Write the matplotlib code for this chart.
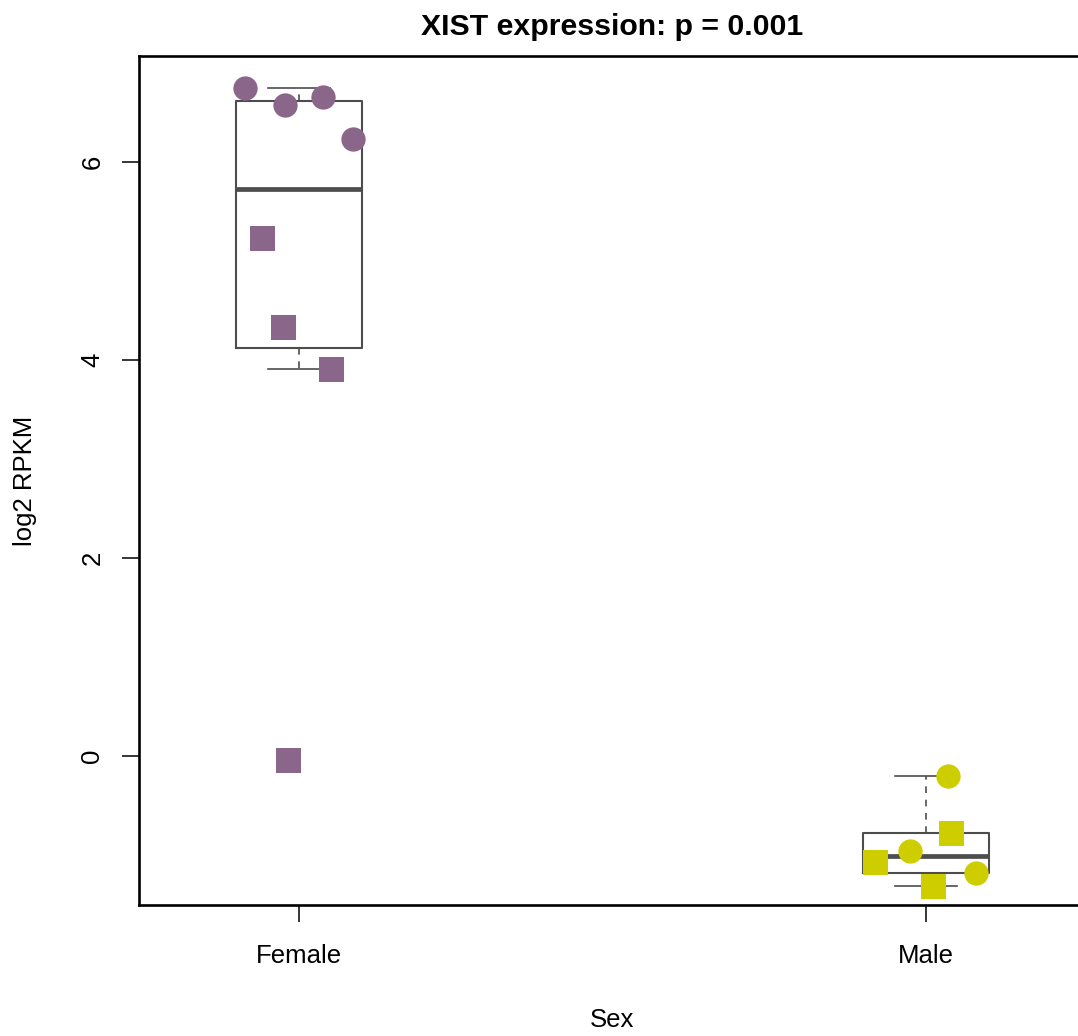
import numpy as np
import matplotlib.pyplot as plt

plt.rcParams['font.family'] = ['Liberation Sans', 'DejaVu Sans']

groups = ['Female', 'Male']
positions = [1, 2]

# log2 RPKM per sample, split by marker shape, with the jittered x offsets
female_circle_y = [6.75, 6.58, 6.66, 6.23]
female_circle_x = [0.914, 0.978, 1.038, 1.086]
female_square_y = [5.23, 4.33, 3.91, -0.04]
female_square_x = [0.941, 0.974, 1.051, 0.982]

male_circle_y = [-0.20, -0.96, -1.18]
male_circle_x = [2.035, 1.974, 2.080]
male_square_y = [-0.78, -1.07, -1.31]
male_square_x = [2.040, 1.918, 2.011]

colors = ['#8B668B', '#CDCD00']
p_value = 0.001


def fivenum_stats(vals, label):
    x = np.sort(np.asarray(vals, dtype=float))
    n = len(x)
    n4 = np.floor((n + 3) / 2) / 2
    d = np.array([1, n4, (n + 1) / 2, n + 1 - n4, n])
    q = 0.5 * (x[np.floor(d - 1).astype(int)] + x[np.ceil(d - 1).astype(int)])
    iqr = q[3] - q[1]
    lo = x[x >= q[1] - 1.5 * iqr].min()
    hi = x[x <= q[3] + 1.5 * iqr].max()
    return dict(med=q[2], q1=q[1], q3=q[3], whislo=lo, whishi=hi,
                fliers=[], label=label)


stats = [fivenum_stats(female_circle_y + female_square_y, groups[0]),
         fivenum_stats(male_circle_y + male_square_y, groups[1])]

fig = plt.figure(figsize=(10.78, 10.36), dpi=100)
ax = fig.add_axes([139 / 1078, 1 - 905 / 1036, 947 / 1078, 849 / 1036])

grey = '#4D4D4D'
ax.bxp(stats, positions=positions, widths=0.2, capwidths=0.1,
       showfliers=False,
       boxprops=dict(color=grey, linewidth=1.5),
       medianprops=dict(color=grey, linewidth=3.4, solid_capstyle='butt'),
       whiskerprops=dict(color=grey, linewidth=1.2, linestyle=(0, (4, 4))),
       capprops=dict(color=grey, linewidth=1.2))

ax.plot(female_circle_x, female_circle_y, 'o', color=colors[0], ms=17.5,
        mew=0, zorder=3)
ax.plot(female_square_x, female_square_y, 's', color=colors[0], ms=18,
        mew=0, zorder=3)
ax.plot(male_circle_x, male_circle_y, 'o', color=colors[1], ms=17.5,
        mew=0, zorder=3)
ax.plot(male_square_x, male_square_y, 's', color=colors[1], ms=18,
        mew=0, zorder=3)

ax.set_xlim(0.745, 2.255)
ax.set_ylim(-1.505, 7.07)
ax.set_xticks(positions)
ax.set_xticklabels(groups, fontsize=18.5)
ax.set_yticks([0, 2, 4, 6])
ax.set_yticklabels(['0', '2', '4', '6'], fontsize=18.5, rotation=90,
                   va='center')
ax.tick_params(axis='both', length=12, width=1.1, color='black')
ax.tick_params(axis='x', pad=16)
ax.tick_params(axis='y', pad=13)
for s in ax.spines.values():
    s.set_linewidth(1.9)

ax.set_title(f'XIST expression: p = {p_value}', fontsize=21.8,
             fontweight='bold', pad=15)
ax.set_xlabel('Sex', fontsize=18.5)
ax.set_ylabel('log2 RPKM', fontsize=18.5)
ax.xaxis.set_label_coords(0.5, (905 - 1020) / 849)
ax.xaxis.label.set_va('center')
ax.yaxis.set_label_coords((25 - 139) / 947, 0.5)
ax.yaxis.label.set_va('center')

fig.savefig('out.png', dpi=100)
